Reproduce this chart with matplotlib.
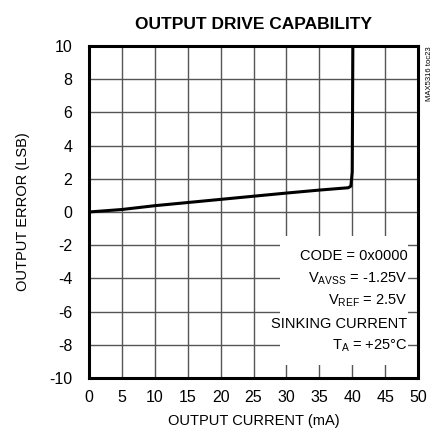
import matplotlib
matplotlib.use("Agg")
import matplotlib.pyplot as plt

plt.rcParams['font.family'] = ['Liberation Sans', 'DejaVu Sans']
plt.rcParams['mathtext.fontset'] = 'custom'
plt.rcParams['mathtext.rm'] = 'Liberation Sans'
plt.rcParams['mathtext.it'] = 'Liberation Sans'

# sinking current curve
current_ma = [0, 5, 10, 15, 20, 25, 30, 35, 39.4, 39.8, 40.0, 40.05, 40.1]
error_lsb = [0, 0.15, 0.38, 0.57, 0.76, 0.95, 1.14, 1.32, 1.46, 1.56, 2.4, 6.0, 10.0]

x_ticks = [0, 5, 10, 15, 20, 25, 30, 35, 40, 45, 50]
y_ticks = [-10, -8, -6, -4, -2, 0, 2, 4, 6, 8, 10]

fig = plt.figure(figsize=(4.4, 4.38), dpi=100)
ax = fig.add_axes([0.2023, 0.137, 0.7477, 0.758])

ax.plot(current_ma, error_lsb, color='black', lw=2.2, zorder=4)

ax.set_xlim(0, 50)
ax.set_ylim(-10, 10)
ax.set_xticks(x_ticks)
ax.set_yticks(y_ticks)
ax.set_xticklabels([str(t) for t in x_ticks])
ax.set_yticklabels([str(t) for t in y_ticks])
ax.tick_params(axis='y', length=0, labelsize=11.5, pad=12)
ax.tick_params(axis='x', length=0, labelsize=11.5, pad=9)
ax.grid(True, color='#555555', lw=1.0)
for s in ax.spines.values():
    s.set_linewidth(2.2)

ax.set_xlabel('OUTPUT CURRENT (mA)', fontsize=10.5, labelpad=6)
ax.set_ylabel('OUTPUT ERROR (LSB)', fontsize=10.5, labelpad=14)
ax.set_title('OUTPUT DRIVE CAPABILITY', fontsize=12.5, fontweight='bold', pad=12)

# legend box covering grid
ax.add_patch(plt.Rectangle((29.0, -9.2), 19.5, 7.75, facecolor='white',
                           edgecolor='none', zorder=3))
lines = ['CODE = 0x0000',
         'V$_{\\mathrm{AVSS}}$ = -1.25V',
         'V$_{\\mathrm{REF}}$ = 2.5V',
         'SINKING CURRENT',
         'T$_{\\mathrm{A}}$ = +25\u00b0C']
for i, t in enumerate(lines):
    ax.text(48.4, -2.65 - 1.36 * i, t, ha='right', va='center', fontsize=10.5, zorder=5)

fig.text(0.977, 0.77, 'MAX5316 toc23', rotation=90, fontsize=5.5, ha='center', va='bottom')

fig.savefig('out.png', dpi=100)
